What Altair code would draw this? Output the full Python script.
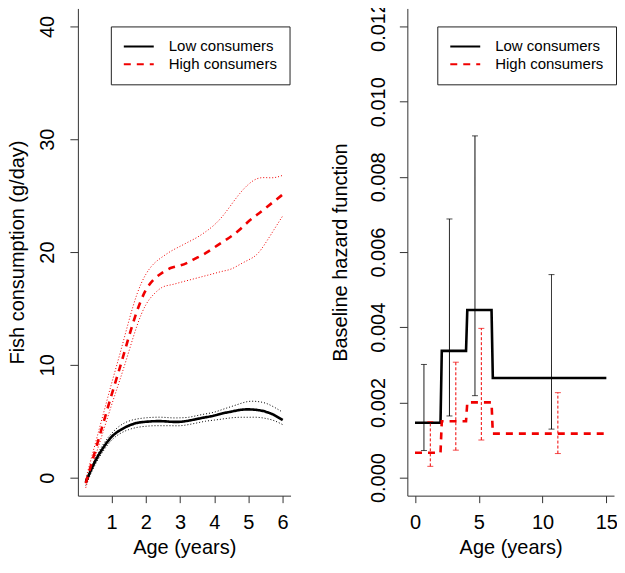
import altair as alt
import pandas as pd

# ---------------- data ----------------
groups = ["Low consumers", "High consumers"]

age = [0.25, 0.5, 0.75, 1.0, 1.25, 1.5, 1.75, 2.0, 2.25, 2.5, 2.75, 3.0,
       3.25, 3.5, 3.75, 4.0, 4.25, 4.5, 4.75, 5.0, 5.25, 5.5, 5.75, 6.0]

low_fit = [-0.4, 1.3, 2.6, 3.6, 4.2, 4.6, 4.85, 4.95, 5.0, 5.0, 4.95, 4.95,
           5.05, 5.2, 5.35, 5.5, 5.7, 5.85, 6.0, 6.05, 6.0, 5.85, 5.55, 5.1]
low_upper = [-0.2, 1.5, 2.9, 3.9, 4.6, 5.0, 5.2, 5.3, 5.35, 5.35, 5.3, 5.3,
             5.35, 5.5, 5.65, 5.8, 6.05, 6.3, 6.55, 6.75, 6.75, 6.6, 6.25, 5.8]
low_lower = [-0.7, 1.0, 2.3, 3.3, 3.9, 4.25, 4.45, 4.55, 4.6, 4.6, 4.6, 4.6,
             4.7, 4.85, 5.0, 5.1, 5.2, 5.3, 5.35, 5.35, 5.35, 5.25, 5.05, 4.7]

high_fit = [-0.5, 2.1, 4.7, 7.3, 9.8, 12.4, 14.8, 16.6, 17.6, 18.2, 18.6, 18.8,
            19.1, 19.5, 19.9, 20.4, 20.9, 21.4, 22.0, 22.7, 23.3, 23.9, 24.5, 25.1]
high_upper = [-0.1, 2.7, 5.5, 8.3, 11.0, 13.8, 16.3, 18.0, 19.0, 19.6, 20.1, 20.5,
              20.9, 21.3, 21.8, 22.4, 23.2, 24.2, 25.2, 26.0, 26.5, 26.6, 26.6, 26.8]
high_lower = [-0.9, 1.6, 4.0, 6.4, 8.7, 11.1, 13.5, 15.3, 16.3, 16.9, 17.1, 17.3,
              17.5, 17.7, 17.9, 18.1, 18.3, 18.5, 18.9, 19.3, 19.8, 20.8, 22.0, 23.2]

# baseline hazard step functions
step_age = [0, 2.0, 2.1, 4.0, 4.1, 6.0, 6.1, 15]
low_hazard = [0.00146, 0.00146, 0.00337, 0.00337, 0.00446, 0.00446, 0.00265, 0.00265]
high_hazard = [0.00066, 0.00066, 0.00150, 0.00150, 0.00200, 0.00200, 0.00117, 0.00117]

# confidence intervals (error bars)
low_ci_age = [0.7, 2.7, 4.7, 10.7]
low_ci_lo = [0.00072, 0.00164, 0.00218, 0.00129]
low_ci_hi = [0.00301, 0.00688, 0.00909, 0.00540]
high_ci_age = [1.2, 3.2, 5.2, 11.2]
high_ci_lo = [0.00030, 0.00073, 0.00100, 0.00064]
high_ci_hi = [0.00149, 0.00307, 0.00397, 0.00226]

# ---------------- tables ----------------
fit_df = pd.DataFrame({
    "age": age * 2,
    "fit": low_fit + high_fit,
    "group": [groups[0]] * len(age) + [groups[1]] * len(age),
})
band_low = pd.DataFrame({"age": age, "upper": low_upper, "lower": low_lower})
band_high = pd.DataFrame({"age": age, "upper": high_upper, "lower": high_lower})

step_df = pd.DataFrame({
    "age": step_age * 2,
    "hazard": low_hazard + high_hazard,
    "group": [groups[0]] * len(step_age) + [groups[1]] * len(step_age),
})
ci_low = pd.DataFrame({"age": low_ci_age, "lo": low_ci_lo, "hi": low_ci_hi})
ci_high = pd.DataFrame({"age": high_ci_age, "lo": high_ci_lo, "hi": high_ci_hi})
cap_low = pd.DataFrame({"age": low_ci_age * 2, "end": low_ci_lo + low_ci_hi})
cap_high = pd.DataFrame({"age": high_ci_age * 2, "end": high_ci_lo + high_ci_hi})

FONT = "Liberation Sans"
RED = "#f00000"

def legend(lx):
    return alt.Legend(
        title=None, orient="none", legendX=lx, legendY=18,
        strokeColor="#222222", fillColor="white", padding=12,
        symbolType="stroke", symbolSize=900, symbolStrokeWidth=2,
        labelFontSize=15, labelFont=FONT, labelColor="black",
        labelOffset=14, rowPadding=2, clipHeight=16, cornerRadius=0,
    )

color_scale = alt.Scale(domain=groups, range=["black", RED])
dash_scale = alt.Scale(domain=groups, range=[[1, 0], [7, 6]])

# ---------------- left panel ----------------
lx = alt.X("age:Q", scale=alt.Scale(domain=[0.02, 6.23], nice=False, zero=False),
           axis=alt.Axis(values=[1, 2, 3, 4, 5, 6], format="d", title="Age (years)",
                         tickSize=7, labelPadding=10, titlePadding=5))
ly_axis = alt.Axis(values=[0, 10, 20, 30, 40], format="d",
                   title="Fish consumption (g/day)", labelAngle=270,
                   labelAlign="center", labelBaseline="bottom",
                   tickSize=8, labelPadding=12, titlePadding=10)
lyscale = alt.Scale(domain=[-1.6, 41.6], nice=False, zero=False)

def band(df, col, color):
    return alt.Chart(df).mark_line(strokeWidth=1, strokeDash=[1, 2], color=color,
                                   interpolate="natural").encode(
        x=lx, y=alt.Y(f"{col}:Q", scale=lyscale, axis=ly_axis))

left_main = alt.Chart(fit_df).mark_line(strokeWidth=2.6, interpolate="natural").encode(
    x=lx,
    y=alt.Y("fit:Q", scale=lyscale, axis=ly_axis),
    color=alt.Color("group:N", scale=color_scale, legend=legend(33)),
    strokeDash=alt.StrokeDash("group:N", scale=dash_scale, legend=legend(33)),
)

left = alt.layer(
    band(band_low, "upper", "black"), band(band_low, "lower", "black"),
    band(band_high, "upper", RED), band(band_high, "lower", RED),
    left_main,
).properties(width=213, height=488)

# ---------------- right panel ----------------
rx = alt.X("age:Q", scale=alt.Scale(domain=[-0.6, 15.6], nice=False, zero=False),
           axis=alt.Axis(values=[0, 5, 10, 15], format="d", title="Age (years)",
                         tickSize=7, labelPadding=10, titlePadding=5))
ry_axis = alt.Axis(values=[0, 0.002, 0.004, 0.006, 0.008, 0.010, 0.012], format=".3f",
                   title="Baseline hazard function", labelAngle=270,
                   labelAlign="center", labelBaseline="bottom",
                   tickSize=8, labelPadding=11, titlePadding=18)
ryscale = alt.Scale(domain=[-0.00048, 0.01248], nice=False, zero=False)

right_steps = alt.Chart(step_df).mark_line(strokeWidth=2.6).encode(
    x=rx,
    y=alt.Y("hazard:Q", scale=ryscale, axis=ry_axis),
    color=alt.Color("group:N", scale=color_scale, legend=legend(30)),
    strokeDash=alt.StrokeDash("group:N", scale=dash_scale, legend=legend(30)),
)

def ci_rule(df, color, dash):
    return alt.Chart(df).mark_rule(strokeWidth=1, color=color, strokeDash=dash).encode(
        x=rx, y=alt.Y("lo:Q", scale=ryscale, axis=ry_axis), y2="hi:Q")

def ci_cap(df, color):
    return alt.Chart(df).mark_tick(orient="horizontal", size=6, thickness=1, color=color).encode(
        x=rx, y=alt.Y("end:Q", scale=ryscale, axis=ry_axis))

right = alt.layer(
    right_steps,
    ci_rule(ci_low, "black", [1, 0]), ci_cap(cap_low, "black"),
    ci_rule(ci_high, RED, [3, 2]), ci_cap(cap_high, RED),
).properties(width=207, height=488)

chart = alt.hconcat(left, right, spacing=40).resolve_scale(
    color="independent", strokeDash="independent"
).resolve_legend(
    color="independent", strokeDash="independent"
).properties(
    padding={"left": 0, "top": -7, "right": -1, "bottom": 2}
).configure_axis(
    labelFont=FONT, titleFont=FONT, labelFontSize=20, titleFontSize=20,
    titleFontWeight="normal", labelColor="black", titleColor="black",
    domainColor="#333333", tickColor="#333333", grid=False,
).configure_view(stroke=None)

chart.save("out.html", embed_options={"renderer": "svg", "actions": False})
